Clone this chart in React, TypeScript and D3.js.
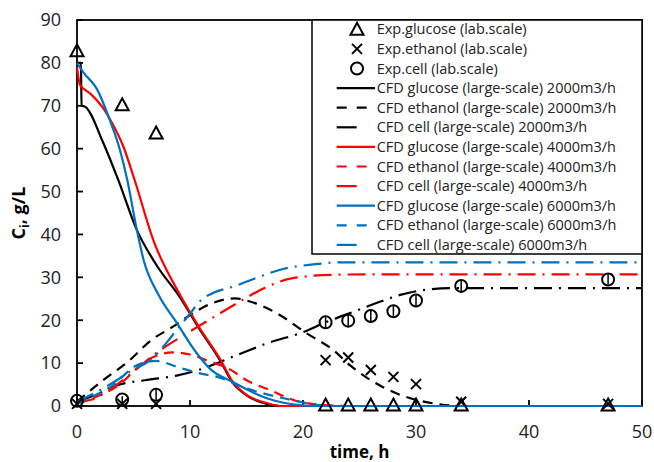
import React from "react";
import * as d3 from "d3";

// experimental (lab scale)
const expTime = [0, 4, 7, 22, 24, 26, 28, 30, 34, 47];
const expGlucose = [82.6, 70, 63.4, 0, 0, 0, 0, 0, 0, 0];
const expEthanol = [0.5, 0.5, 0.5, 10.7, 11.3, 8.4, 6.8, 5.1, 1.0, 0.5];
const expCell = [1.2, 1.5, 2.6, 19.5, 19.9, 21, 22.1, 24.6, 28, 29.5];
const cellErr = [0.8, 0.8, 1.2, 1.2, 1.2, 1.2, 1.2, 1.2, 1.2, 1.2];

// CFD large scale: [time, conc]
const glucose2000: [number, number][] = [
  [0, 80], [0.35, 80], [0.4, 70], [0.7, 69.8], [2.3, 61.5], [3.65, 52.7], [5.3, 41], [7, 33],
  [9.2, 25], [10.9, 17.7], [12.65, 10.7], [13.7, 5.7], [15, 2.5], [16.8, 0.5], [18, 0], [50, 0],
];
const ethanol2000: [number, number][] = [
  [0, 1], [2.3, 6], [4.5, 10.3], [6.6, 15.4], [8.5, 18.5], [10, 21.2], [12, 24], [14, 25.1],
  [15, 24.6], [17.7, 21.6], [20.3, 17], [22.7, 13], [24.2, 9.4], [27, 4.5], [28.6, 2.6],
  [31.8, 0.5], [34, 0], [50, 0],
];
const cell2000: [number, number][] = [
  [0, 1], [2, 3], [3.5, 4.8], [6, 6], [9, 7.2], [11, 8.6], [13.8, 11.5], [16.8, 14.6],
  [20.3, 17.5], [22, 19.5], [24.5, 22], [26.8, 24.3], [28.6, 25.9], [31.2, 27.2], [33.3, 27.5],
  [36, 27.5], [50, 27.5],
];
const glucose4000: [number, number][] = [
  [0, 79], [0.27, 74.8], [1.15, 72.9], [2.33, 69.4], [3.2, 65.5], [4.1, 60.5], [5.1, 52.7],
  [6.75, 38.7], [9.1, 26], [10.9, 18], [12.65, 11], [13.7, 6], [15, 2.6], [16.8, 0.7], [18, 0], [50, 0],
];
const ethanol4000: [number, number][] = [
  [0, 0.5], [1.4, 1.8], [3.5, 4.5], [6.2, 10.7], [8.5, 12.5], [10, 12], [11.8, 10.3], [13.2, 9],
  [15.3, 5.6], [16.8, 4], [19.7, 1], [22, 0.2], [24, 0], [50, 0],
];
const cell4000: [number, number][] = [
  [0, 1], [1.15, 1.4], [3, 4], [5, 8], [7, 12.3], [9.7, 16.9], [12.4, 21.2], [14.7, 24.8],
  [16.5, 27.4], [19.1, 29.8], [22.7, 30.6], [26, 30.7], [50, 30.7],
];
const glucose6000: [number, number][] = [
  [0, 80], [0.56, 77.8], [1.74, 74], [2.9, 66.7], [3.8, 59.7], [4.45, 52.7], [5.3, 41],
  [5.9, 34], [7.2, 26], [8.8, 19.5], [10.6, 12.3], [11.8, 8.6], [13.7, 5.7], [16.8, 1.8],
  [19.7, 0.2], [21, 0], [50, 0],
];
const ethanol6000: [number, number][] = [
  [0, 0.5], [1.2, 2], [3, 4.5], [5.3, 9.5], [7, 10.5], [9, 9], [10.9, 7.6], [12.4, 6.8],
  [15, 4.1], [18.3, 1.8], [21.5, 0.2], [23, 0], [50, 0],
];
const cell6000: [number, number][] = [
  [0, 1], [2.9, 5], [5, 8.5], [6.5, 10.7], [8, 15], [8.8, 17.7], [10, 21.5], [10.9, 24.5],
  [12, 26.3], [13.8, 27.8], [16, 30], [18.3, 32], [20.9, 33], [23.3, 33.5], [26, 33.5], [50, 33.5],
];

const xTicks = [0, 10, 20, 30, 40, 50];
const yTicks = [0, 10, 20, 30, 40, 50, 60, 70, 80, 90];

const W = 654, H = 462;
const M = { left: 77, right: 642, top: 20, bottom: 406 };
const FONT = "'Open Sans', sans-serif";

const SOLID = "none";
const DASH = "10,7";
const DASHDOT = "18,7,2,7";

const cfdSeries = [
  { name: "CFD glucose (large-scale) 2000m3/h", data: glucose2000, color: "#000000", dash: SOLID },
  { name: "CFD ethanol (large-scale) 2000m3/h", data: ethanol2000, color: "#000000", dash: DASH },
  { name: "CFD cell (large-scale) 2000m3/h", data: cell2000, color: "#000000", dash: DASHDOT },
  { name: "CFD glucose (large-scale) 4000m3/h", data: glucose4000, color: "#ff0000", dash: SOLID },
  { name: "CFD ethanol (large-scale) 4000m3/h", data: ethanol4000, color: "#ff0000", dash: DASH },
  { name: "CFD cell (large-scale) 4000m3/h", data: cell4000, color: "#ff0000", dash: DASHDOT },
  { name: "CFD glucose (large-scale) 6000m3/h", data: glucose6000, color: "#0070c0", dash: SOLID },
  { name: "CFD ethanol (large-scale) 6000m3/h", data: ethanol6000, color: "#0070c0", dash: DASH },
  { name: "CFD cell (large-scale) 6000m3/h", data: cell6000, color: "#0070c0", dash: DASHDOT },
];

function Marker({ kind, x, y }: { kind: string; x: number; y: number }) {
  if (kind === "tri") {
    const s = 6.5;
    return (
      <path
        d={`M${x},${y - s}L${x + s},${y + s * 0.85}L${x - s},${y + s * 0.85}Z`}
        fill="none" stroke="#000" strokeWidth={2} strokeLinejoin="miter"
      />
    );
  }
  if (kind === "x") {
    const s = 5;
    return (
      <path d={`M${x - s},${y - s}L${x + s},${y + s}M${x - s},${y + s}L${x + s},${y - s}`}
        stroke="#000" strokeWidth={2} />
    );
  }
  return <circle cx={x} cy={y} r={6} fill="none" stroke="#000" strokeWidth={2} />;
}

export default function App() {
  const x = d3.scaleLinear().domain([0, 50]).range([M.left, M.right]);
  const y = d3.scaleLinear().domain([0, 90]).range([M.bottom, M.top]);
  const line = d3
    .line<[number, number]>()
    .x((d) => x(d[0]))
    .y((d) => y(d[1]))
    .curve(d3.curveMonotoneX);

  const legX = 312;
  const legRow = (i: number) => 29.3 + i * 19.6;
  const legendItems = [
    { name: "Exp.glucose (lab.scale)", kind: "tri" },
    { name: "Exp.ethanol (lab.scale)", kind: "x" },
    { name: "Exp.cell (lab.scale)", kind: "o" },
  ];

  return (
    <svg width={W} height={H} style={{ position: "absolute", left: 0, top: 0, background: "#fff" }}>
      <rect x={0} y={0} width={W} height={H} fill="#fff" />
      {/* frame */}
      <rect x={M.left} y={M.top} width={M.right - M.left} height={M.bottom - M.top}
        fill="none" stroke="#000" strokeWidth={1.8} />
      {yTicks.map((t) => (
        <g key={"y" + t}>
          <line x1={M.left} x2={M.left + 6} y1={y(t)} y2={y(t)} stroke="#000" strokeWidth={1.8} />
          <text x={61} y={y(t)} dy="0.35em" textAnchor="end" fontFamily={FONT} fontSize={18} fill="#222">{t}</text>
        </g>
      ))}
      {xTicks.map((t) => (
        <g key={"x" + t}>
          <line x1={x(t)} x2={x(t)} y1={M.bottom} y2={M.bottom - 6} stroke="#000" strokeWidth={1.8} />
          <text x={x(t)} y={432} dy="0.35em" textAnchor="middle" fontFamily={FONT} fontSize={18} fill="#222">{t}</text>
        </g>
      ))}
      <text x={(M.left + M.right) / 2} y={458} textAnchor="middle" fontFamily={FONT} fontSize={17} fontWeight="bold">time, h</text>
      <text transform={`translate(25,${(M.top + M.bottom) / 2}) rotate(-90)`} textAnchor="middle"
        fontFamily={FONT} fontSize={18} fontWeight="bold">
        C<tspan fontSize={12} dy={4}>i</tspan><tspan dy={-4}>, g/L</tspan>
      </text>

      {/* CFD curves */}
      {cfdSeries.map((s) => (
        <path key={s.name} d={line(s.data) || ""} fill="none" stroke={s.color} strokeWidth={2.2}
          strokeDasharray={s.dash === SOLID ? undefined : s.dash} />
      ))}

      {/* experimental error bars */}
      {expTime.map((t, i) => (
        <line key={"e" + i} x1={x(t)} x2={x(t)} y1={y(expCell[i] - cellErr[i])} y2={y(expCell[i] + cellErr[i])}
          stroke="#000" strokeWidth={1.5} />
      ))}
      {expTime.map((t, i) => (
        <g key={"m" + i}>
          <Marker kind="tri" x={x(t)} y={y(expGlucose[i]) - 1} />
          <Marker kind="x" x={x(t)} y={y(expEthanol[i])} />
          <Marker kind="o" x={x(t)} y={y(expCell[i])} />
        </g>
      ))}

      {/* legend */}
      <rect x={legX} y={M.top} width={M.right - legX} height={254 - M.top} fill="#fff" stroke="#000" strokeWidth={1.5} />
      {legendItems.map((it, i) => (
        <g key={it.name}>
          <Marker kind={it.kind} x={357} y={legRow(i)} />
          <text x={376.7} y={legRow(i)} dy="0.35em" fontFamily={FONT} fontSize={14.5} fill="#222">{it.name}</text>
        </g>
      ))}
      {cfdSeries.map((s, j) => {
        const i = j + 3;
        return (
          <g key={"l" + s.name}>
            <line x1={336.7} x2={s.dash === SOLID ? 375 : 367} y1={legRow(i)} y2={legRow(i)} stroke={s.color}
              strokeWidth={2.2} strokeDasharray={s.dash === SOLID ? undefined : s.dash === DASH ? "10,10" : "20,12,2,20"} />
            <text x={376.7} y={legRow(i)} dy="0.35em" fontFamily={FONT} fontSize={14.5} fill="#222">{s.name}</text>
          </g>
        );
      })}
    </svg>
  );
}
